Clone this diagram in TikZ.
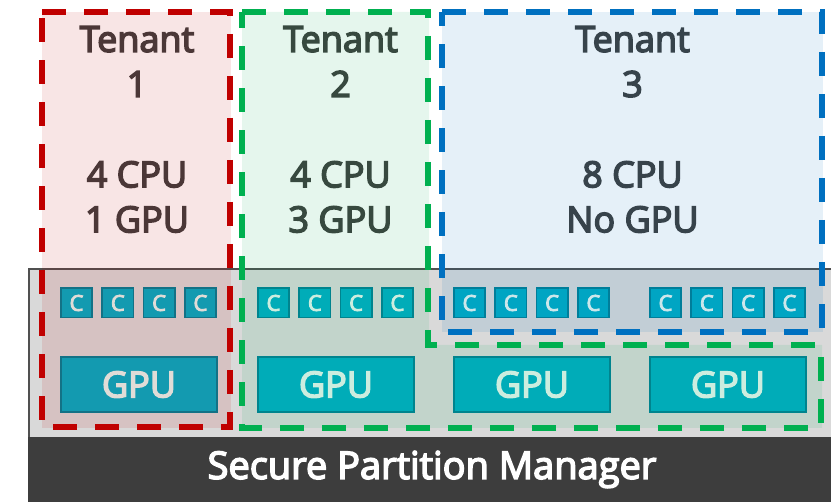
\documentclass[tikz,border=0pt]{standalone}
\usepackage{fontspec}
\setmainfont{Open Sans}
\newfontfamily\labelfont{Open Sans}[FakeBold=4]
\definecolor{panelgray}{RGB}{217,217,217}
\definecolor{panelline}{RGB}{80,80,80}
\definecolor{bardark}{RGB}{61,61,61}
\definecolor{chipfill}{RGB}{0,172,196}
\definecolor{chipedge}{RGB}{0,128,150}
\definecolor{chiptext}{RGB}{228,245,240}
\definecolor{tenanttext}{RGB}{62,62,62}
\definecolor{tred}{RGB}{192,0,0}
\definecolor{tgreen}{RGB}{0,176,80}
\definecolor{tblue}{RGB}{0,112,192}
\begin{document}
\begin{tikzpicture}[x=1pt,y=-1pt,
  corebox/.style={draw=chipedge, fill=chipfill, line width=1.6pt,
    minimum width=31.4pt, minimum height=29.4pt, inner sep=0pt,
    text=chiptext, font=\fontsize{22}{22}\labelfont},
  gpubox/.style={draw=chipedge, fill=chipfill, line width=1.6pt,
    minimum width=156.4pt, minimum height=55.4pt, inner sep=0pt,
    text=chiptext, font=\fontsize{36}{36}\labelfont},
  tenantlabel/.style={align=center, inner sep=0pt, anchor=north,
    text=tenanttext, font=\fontsize{36}{45}\labelfont},
  zonefill/.style={fill opacity=0.1},
  zoneline/.style={line width=5.5pt, dash pattern=on 24pt off 18pt}]
\useasboundingbox (0,0) rectangle (831,502);
\fill[white] (0,0) rectangle (831,502);

% hardware panel and manager bar
\fill[panelgray] (29,269) rectangle (840,437);
\draw[panelline, line width=2pt] (29,437) -- (29,269) -- (840,269);
\fill[bardark] (28,437) rectangle (840,502);
\node[text=white, font=\fontsize{38}{38}\labelfont, inner sep=0pt] (spm) at (432,469.5) {Secure Partition Manager};

% four CPU groups with one GPU each
\foreach \g/\gx in {1/60,2/257,3/453,4/649}{
  \foreach \i in {0,1,2,3}{
    \node[corebox] (core-\g-\i) at ({\gx+16.5+41.3*\i},303) {C};
  }
  \node[gpubox] (gpu-\g) at ({\gx+79},384.5) {GPU};
}

% tenant labels
\node[tenantlabel] (t1name) at (137,26) {Tenant\\1};
\node[tenantlabel] (t1res) at (137,161) {4 CPU\\1 GPU};
\node[tenantlabel] (t2name) at (340.5,26) {Tenant\\2};
\node[tenantlabel] (t2res) at (340.5,161) {4 CPU\\3 GPU};
\node[tenantlabel] (t3name) at (632.5,26) {Tenant\\3};
\node[tenantlabel] (t3res) at (632.5,161) {8 CPU\\No GPU};

% tenant partitions
\fill[tred, zonefill] (42,12) -- (231,12) -- (231,428) -- (42,428) -- cycle;
\fill[tgreen, zonefill] (242,12) -- (429,12) -- (429,345) -- (822,345) -- (822,428) -- (242,428) -- cycle;
\fill[tblue, zonefill] (442,12) -- (823,12) -- (823,332) -- (442,332) -- cycle;
\draw[tred, zoneline] (42,12) -- (230,12) -- (230,427) -- (42,427) -- cycle;
\draw[tgreen, zoneline] (242,12) -- (428,12) -- (428,345) -- (821,345) -- (821,428) -- (242,428) -- cycle;
\draw[tblue, zoneline] (442,12) -- (822,12) -- (822,332) -- (442,332) -- cycle;
\end{tikzpicture}
\end{document}
